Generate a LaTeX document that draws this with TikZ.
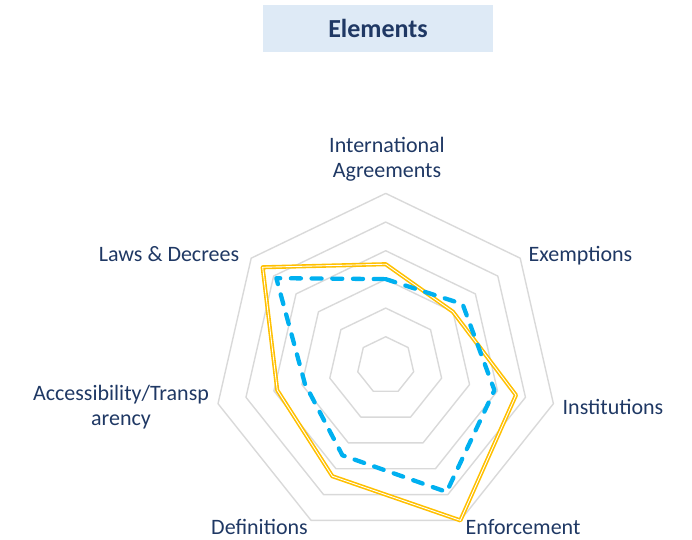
\documentclass[tikz,border=0pt]{standalone}
\usepackage{fontspec}
\setmainfont{Carlito}
\definecolor{navy}{HTML}{1F3864}
\definecolor{gridgray}{HTML}{D9D9D9}
\definecolor{gold}{HTML}{FFC000}
\definecolor{skyblue}{HTML}{00B0F0}
\definecolor{titlebg}{HTML}{DEEAF6}
\begin{document}
\begin{tikzpicture}[x=1pt,y=-1pt,
  gridline/.style={draw=gridgray,line width=1.4pt,line join=round},
  goldline/.style={draw=gold,double=white,line width=1.6pt,double distance=0.9pt,line join=round},
  blueline/.style={draw=skyblue,line width=4.3pt,line cap=round,line join=round,dash pattern=on 10pt off 10.7pt},
  lbl/.style={text=navy,font=\fontsize{22}{25.5}\selectfont,inner sep=0pt},
  titlebox/.style={fill=titlebg,text=navy,font=\fontsize{26}{30}\selectfont\bfseries,minimum width=230pt,minimum height=47pt,inner sep=0pt}]
\useasboundingbox (0,0) rectangle (692,539);
\coordinate (O) at (385.7,365.4);
\def\R{28.67}
% grid
\foreach \r in {1,...,6}
  \draw[gridline] ([shift={(-90:\r*\R)}]O) \foreach \k in {1,...,6}{ -- ([shift={(\k*360/7-90:\r*\R)}]O)} -- cycle;
% series
\foreach \v [count=\k from 0] in {3.53,3.0,4.66,6.0,4.29,3.88,5.49}
  \coordinate (y\k) at ([shift={(\k*360/7-90:\v*\R)}]O);
\foreach \v [count=\k from 0] in {3.01,3.43,3.89,4.9,3.48,2.89,4.88}
  \coordinate (b\k) at ([shift={(\k*360/7-90:\v*\R)}]O);
\draw[goldline] (y0) -- (y1) -- (y2) -- (y3) -- (y4) -- (y5) -- (y6) -- cycle;
\draw[blueline] (b0) -- (b1) -- (b2) -- (b3) -- (b4) -- (b5) -- (b6) -- cycle;
% title
\node[titlebox] (title) at (378,28.5) {Elements};
% labels
\node[lbl,align=center] (lIA) at (387,159) {International\\Agreements};
\node[lbl,anchor=base] (lEx) at (580.5,261) {Exemptions};
\node[lbl,anchor=base] (lIn) at (613,414) {Institutions};
\node[lbl,anchor=base] (lEn) at (523,534) {Enforcement};
\node[lbl,anchor=base] (lDe) at (259.5,534) {Definitions};
\node[lbl,align=center] (lAc) at (121,407) {Accessibility/Transp\\arency};
\node[lbl,anchor=base] (lLa) at (169,261) {Laws \& Decrees};
\end{tikzpicture}
\end{document}
